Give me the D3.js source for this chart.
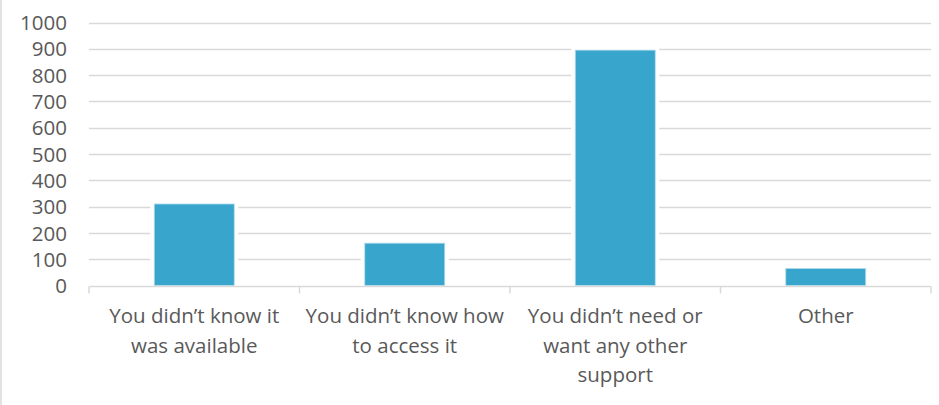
<!DOCTYPE html>
<html>
<head>
<meta charset="utf-8">
<script src="https://cdn.jsdelivr.net/npm/d3@7"></script>
<style>
  html, body { margin: 0; padding: 0; background: #fff; }
  svg { display: block; }
</style>
</head>
<body>
<svg id="chart" width="939" height="405"></svg>
<script>
const categories = [
  "You didn\u2019t know it\nwas available",
  "You didn\u2019t know how\nto access it",
  "You didn\u2019t need or\nwant any other\nsupport",
  "Other"
];
const values = [310, 161, 895, 65];
const yTicks = [0, 100, 200, 300, 400, 500, 600, 700, 800, 900, 1000];

const W = 939, H = 405;
const margin = { left: 89, right: 8, top: 22.5, bottom: 119.5 };
const svg = d3.select("#chart");
const font = "'Open Sans', 'Segoe UI', sans-serif";
const textColor = "#595959";
const gridColor = "#D9D9D9";

// outer frame left edge
svg.append("line")
  .attr("x1", 1).attr("x2", 1).attr("y1", 0).attr("y2", H)
  .attr("stroke", gridColor).attr("stroke-width", 1.5);

const x = d3.scaleBand()
  .domain(categories)
  .range([margin.left, W - margin.right])
  .paddingInner(0.62)
  .paddingOuter(0.31);

const y = d3.scaleLinear()
  .domain([0, 1000])
  .range([H - margin.bottom, margin.top]);

// gridlines
svg.append("g")
  .selectAll("line")
  .data(yTicks.filter(d => d > 0))
  .join("line")
  .attr("x1", margin.left).attr("x2", W - margin.right)
  .attr("y1", d => Math.round(y(d)) + 0.5).attr("y2", d => Math.round(y(d)) + 0.5)
  .attr("stroke", gridColor).attr("stroke-width", 1.3);

// y axis labels
const yAxis = d3.axisLeft(y).tickValues(yTicks).tickFormat(d3.format("d")).tickSize(0).tickPadding(0);
const gy = svg.append("g")
  .attr("transform", `translate(${margin.left - 22},0)`)
  .call(yAxis);
gy.select(".domain").remove();
gy.selectAll("text")
  .attr("fill", textColor)
  .style("font-family", font)
  .style("font-size", "20.5px")
  .attr("dy", "0.35em");

// bar halos (white gap where gridlines meet bars)
const halo = 4;
svg.append("g")
  .selectAll("rect")
  .data(values)
  .join("rect")
  .attr("x", (d, i) => x(categories[i]) - halo)
  .attr("width", x.bandwidth() + 2 * halo)
  .attr("y", d => y(d) - halo)
  .attr("height", d => y(0) - y(d) + halo - 1)
  .attr("fill", "#fff");

// bars
svg.append("g")
  .selectAll("rect")
  .data(values)
  .join("rect")
  .attr("x", (d, i) => x(categories[i]))
  .attr("width", x.bandwidth())
  .attr("y", d => y(d))
  .attr("height", d => y(0) - y(d))
  .attr("fill", "#38A6CC")
  .attr("stroke", "#B5DDEB")
  .attr("stroke-width", 0.8);

// x axis
const xAxisG = svg.append("g")
  .attr("transform", `translate(0,${Math.round(y(0)) + 0.5})`);
xAxisG.append("line")
  .attr("x1", margin.left).attr("x2", W - margin.right)
  .attr("stroke", gridColor).attr("stroke-width", 1.5);
const step = x.step();
const boundaries = d3.range(categories.length + 1).map(i => margin.left + i * step);
xAxisG.selectAll("line.tick")
  .data(boundaries)
  .join("line")
  .attr("class", "tick")
  .attr("x1", d => d).attr("x2", d => d)
  .attr("y1", 0).attr("y2", 7)
  .attr("stroke", gridColor).attr("stroke-width", 1.5);

// category labels
const labels = svg.append("g");
categories.forEach(cat => {
  const cx = x(cat) + x.bandwidth() / 2;
  const lines = cat.split("\n");
  const t = labels.append("text")
    .attr("text-anchor", "middle")
    .attr("fill", textColor)
    .style("font-family", font)
    .style("font-size", "20.5px");
  lines.forEach((ln, k) => {
    t.append("tspan")
      .attr("x", cx)
      .attr("y", 323 + k * 29.5)
      .text(ln);
  });
});
</script>
</body>
</html>
